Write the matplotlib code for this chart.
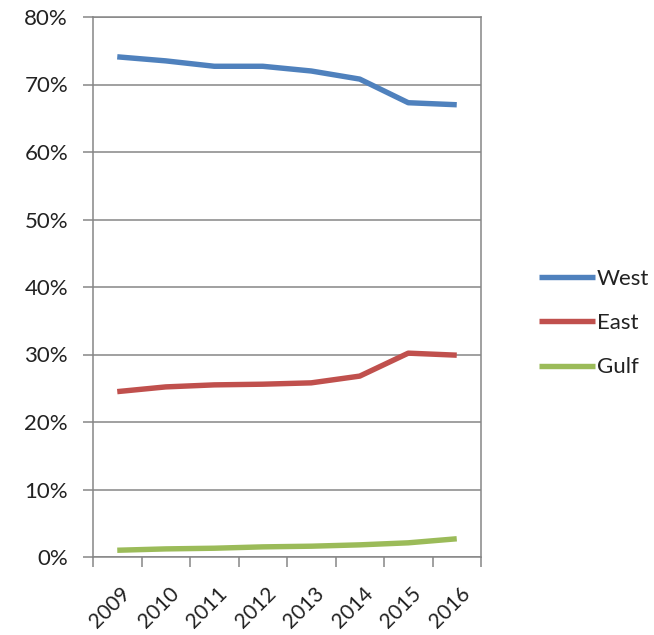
import matplotlib
matplotlib.use("Agg")
import matplotlib.pyplot as plt
import matplotlib.transforms as mtransforms
from matplotlib.ticker import FixedLocator, PercentFormatter

years = ["2009", "2010", "2011", "2012", "2013", "2014", "2015", "2016"]
west = [74.1, 73.5, 72.7, 72.7, 72.0, 70.8, 67.3, 67.0]
east = [24.5, 25.2, 25.5, 25.6, 25.8, 26.8, 30.2, 29.9]
gulf = [1.0, 1.2, 1.3, 1.5, 1.6, 1.8, 2.1, 2.7]
series_names = ["West", "East", "Gulf"]
colors = ["#4F81BD", "#C0504D", "#9BBB59"]

plt.rcParams['font.family'] = ['Lato', 'DejaVu Sans']
FS = 16

fig = plt.figure(figsize=(6.54, 6.35), dpi=100)
ax = fig.add_axes([93/654, 1-557/635, (481-93)/654, (557-17)/635])

xs = [i + 0.5 for i in range(len(years))]
for vals, name, c in zip([west, east, gulf], series_names, colors):
    ax.plot(xs, vals, color=c, lw=3.9, label=name, solid_joinstyle='round',
            solid_capstyle='butt')

ax.set_xlim(0, len(years))
ax.set_ylim(0, 80)
ax.set_yticks(range(0, 81, 10))
ax.yaxis.set_major_formatter(PercentFormatter(decimals=0))
ax.grid(axis='y', color='#868686', lw=1.1)
ax.set_axisbelow(True)

ax.xaxis.set_major_locator(FixedLocator(range(len(years) + 1)))
ax.xaxis.set_minor_locator(FixedLocator(xs))
ax.set_xticklabels([], minor=False)
ax.set_xticklabels(years, minor=True)
ax.tick_params(axis='x', which='major', length=7, width=1.1, color='#868686', direction='out')
ax.tick_params(axis='x', which='minor', length=0, pad=0, labelsize=15, labelcolor='#222222')
ax.tick_params(axis='y', length=7, width=1.1, color='#868686', direction='out',
               pad=11, labelsize=FS, labelcolor='#222222')
for lab in ax.get_xticklabels(minor=True):
    lab.set_rotation(45)
    lab.set_ha('right')
    lab.set_va('top')
    lab.set_rotation_mode('anchor')
    lab.set_transform(lab.get_transform() + mtransforms.ScaledTranslation(3/100, -26/100, fig.dpi_scale_trans))

for s in ax.spines.values():
    s.set_color('#868686')
    s.set_linewidth(1.1)

fig.legend(loc='center left', bbox_to_anchor=(528/654, 1-323/635), frameon=False,
           borderpad=0, handlelength=2.5, handletextpad=0.1, labelspacing=1.1,
           fontsize=FS, labelcolor='#222222')

fig.savefig("out.png", dpi=100, facecolor='white')
